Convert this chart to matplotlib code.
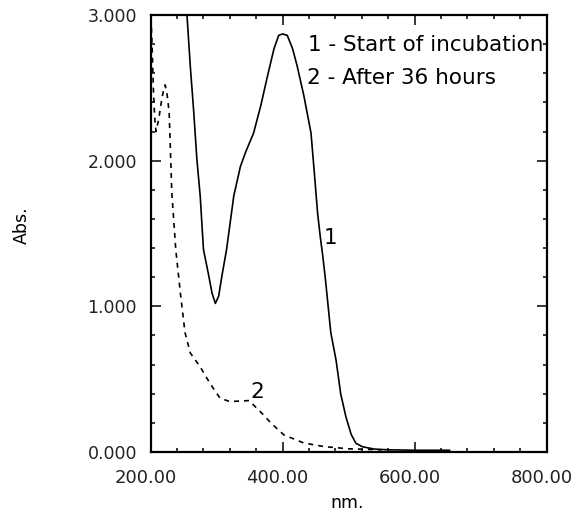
import matplotlib
matplotlib.use("Agg")
import matplotlib.pyplot as plt
import matplotlib.transforms as mtransforms
from matplotlib.ticker import MultipleLocator, FormatStrFormatter

# Curve 1: start of incubation (solid)
nm_start = [250, 255, 260, 265, 270, 275, 280, 288, 293, 298, 303, 308, 315,
            326, 336, 344, 356, 367, 377, 387, 394, 400, 407, 415, 422, 432,
            443, 448, 453, 457, 461, 465, 473, 481, 488, 496, 504, 511, 521,
            539, 560, 600, 653]
abs_start = [3.3, 3.0, 2.65, 2.35, 2.01, 1.76, 1.39, 1.21, 1.09, 1.02, 1.07,
             1.21, 1.39, 1.76, 1.96, 2.06, 2.19, 2.38, 2.58, 2.77, 2.86, 2.87,
             2.86, 2.77, 2.65, 2.45, 2.19, 1.92, 1.64, 1.48, 1.34, 1.18, 0.82,
             0.63, 0.40, 0.24, 0.12, 0.06, 0.036, 0.02, 0.015, 0.012, 0.012]

# Curve 2: after 36 hours (dashed)
nm_36h = [200, 202, 204, 206, 208, 212, 216, 220, 222, 225, 228, 232, 238,
          245, 252, 260, 275, 290, 305, 320, 335, 349, 361, 372, 382, 402,
          432, 463, 500, 550]
abs_36h = [3.05, 2.8, 2.5, 2.3, 2.2, 2.28, 2.4, 2.5, 2.52, 2.45, 2.33, 1.78,
           1.39, 1.09, 0.82, 0.68, 0.585, 0.47, 0.37, 0.346, 0.35, 0.353, 0.30,
           0.25, 0.20, 0.117, 0.062, 0.037, 0.022, 0.015]

legend_lines = ["1 - Start of incubation", "2 - After 36 hours"]

plt.rcParams['font.family'] = ['DejaVu Sans']

fig = plt.figure(figsize=(5.75, 5.12), dpi=100)
ax = fig.add_axes([150.7/575, 60/512, (546.5-150.7)/575, (452-15)/512])

ax.plot(nm_start, abs_start, color='black', lw=1.2)
ax.plot(nm_36h, abs_36h, color='black', lw=1.2, linestyle=(0, (3, 3)))

ax.set_xlim(200, 800)
ax.set_ylim(0, 3)

ax.xaxis.set_major_locator(MultipleLocator(200))
ax.xaxis.set_minor_locator(MultipleLocator(40))
ax.yaxis.set_major_locator(MultipleLocator(1))
ax.yaxis.set_minor_locator(MultipleLocator(0.2))
ax.xaxis.set_major_formatter(FormatStrFormatter('%.2f'))
ax.yaxis.set_major_formatter(FormatStrFormatter('%.3f'))

ax.tick_params(which='both', direction='in', top=True, right=True,
               color='black', width=1.1)
ax.tick_params(which='major', length=7.2)
ax.tick_params(which='minor', length=3.2)
ax.tick_params(axis='x', which='major', labelsize=13, pad=12.5, labelcolor='#222222')
ax.tick_params(axis='y', which='major', labelsize=12.5, pad=9.9, labelcolor='#222222')

# reference x tick labels sit slightly left of their ticks
offset = mtransforms.ScaledTranslation(-5/100, 0, fig.dpi_scale_trans)
for lbl in ax.get_xticklabels():
    lbl.set_transform(lbl.get_transform() + offset)

for s in ax.spines.values():
    s.set_linewidth(1.6)

ax.text(438.4, 2.794, legend_lines[0], fontsize=15.5, va='center', ha='left')
ax.text(436.5, 2.567, legend_lines[1], fontsize=15.5, va='center', ha='left')
ax.text(473, 1.47, "1", fontsize=15.5, va='center', ha='center')
ax.text(361, 0.41, "2", fontsize=15.5, va='center', ha='center')

fig.text(22/575, 1-225/512, "Abs.", rotation=90, fontsize=12.5,
         va='center', ha='center')
fig.text(347/575, 1-503/512, "nm.", fontsize=12.5, va='center', ha='center')

fig.savefig("out.png", dpi=100)
